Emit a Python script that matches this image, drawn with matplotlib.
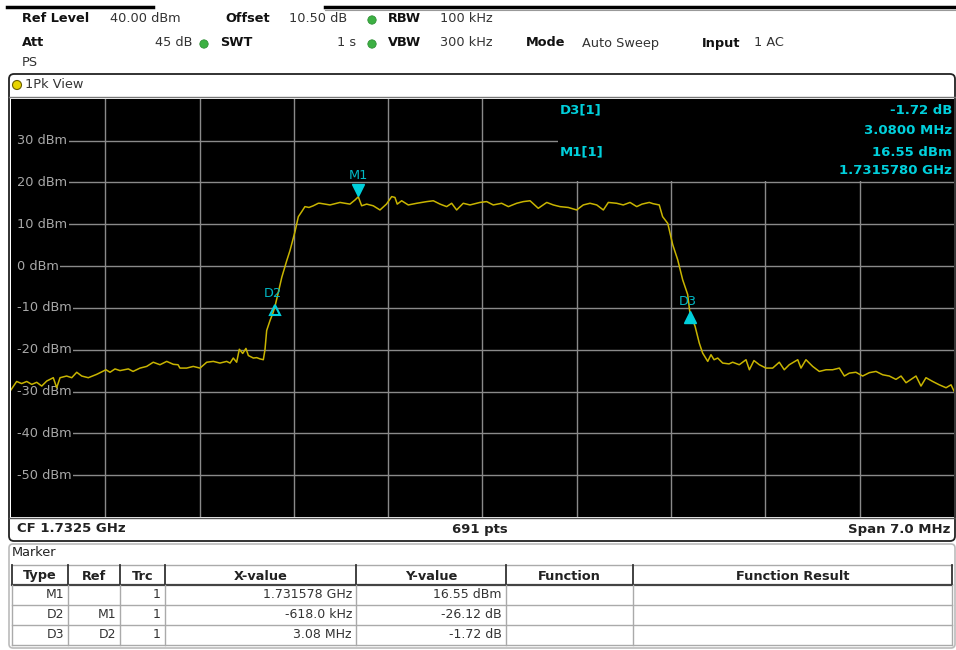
import matplotlib
matplotlib.use("Agg")
import matplotlib.pyplot as plt
import matplotlib.transforms as mtransforms
from matplotlib.patches import FancyBboxPatch, Rectangle, Circle

# trace 1: offset from start frequency (MHz) and level (dBm)
f_off = [0.000, 0.042, 0.079, 0.117, 0.154, 0.191, 0.228, 0.265, 0.314, 0.339,
         0.364, 0.413, 0.451, 0.488, 0.525, 0.574, 0.636, 0.705, 0.735, 0.772,
         0.809, 0.871, 0.906, 0.958, 1.007, 1.056, 1.106, 1.156, 1.205, 1.240,
         1.254, 1.304, 1.353, 1.403, 1.453, 1.502, 1.551, 1.601, 1.626, 1.650,
         1.675, 1.695, 1.720, 1.744, 1.762, 1.799, 1.824, 1.848, 1.873, 1.885,
         1.898, 1.923, 1.947, 1.960, 1.982, 2.010, 2.047, 2.071, 2.108, 2.133,
         2.158, 2.182, 2.212, 2.244, 2.281, 2.294, 2.368, 2.442, 2.516, 2.554,
         2.578, 2.603, 2.640, 2.689, 2.739, 2.787, 2.826, 2.850, 2.867, 2.900,
         2.949, 3.012, 3.086, 3.135, 3.185, 3.234, 3.271, 3.308, 3.357, 3.407,
         3.481, 3.531, 3.580, 3.642, 3.692, 3.754, 3.803, 3.853, 3.914, 3.977,
         4.026, 4.075, 4.137, 4.199, 4.248, 4.298, 4.348, 4.397, 4.434, 4.496,
         4.545, 4.595, 4.645, 4.684, 4.738, 4.766, 4.812, 4.837, 4.875, 4.912,
         4.949, 4.986, 5.023, 5.040, 5.078, 5.109, 5.134, 5.172, 5.196, 5.219,
         5.246, 5.283, 5.330, 5.357, 5.406, 5.456, 5.481, 5.515, 5.555, 5.604,
         5.654, 5.703, 5.740, 5.777, 5.840, 5.864, 5.901, 5.951, 6.000, 6.050,
         6.099, 6.149, 6.186, 6.223, 6.272, 6.322, 6.371, 6.421, 6.471, 6.520,
         6.569, 6.607, 6.644, 6.718, 6.755, 6.792, 6.842, 6.891, 6.941, 6.978,
         7.000]
lvl = [-29.6, -27.6, -28.1, -27.6, -28.3, -27.8, -28.7, -27.5, -26.7, -29.1,
       -26.7, -26.3, -26.7, -25.4, -26.3, -26.7, -25.9, -24.8, -25.4, -24.6,
       -25.0, -24.6, -25.2, -24.4, -24.0, -23.0, -23.6, -22.8, -23.5, -23.6,
       -24.4, -24.4, -24.0, -24.4, -23.0, -22.8, -23.2, -22.8, -23.2, -22.0,
       -23.0, -19.9, -20.9, -19.7, -21.4, -22.0, -21.9, -22.2, -22.4, -20.1,
       -15.4, -13.0, -11.0, -9.57, -6.6, -2.7, 1.3, 3.7, 8.2, 11.8,
       13.0, 14.2, 14.0, 14.4, 15.0, 15.0, 14.6, 15.2, 14.8, 15.8,
       16.55, 14.4, 14.8, 14.4, 13.4, 14.8, 16.6, 16.4, 14.8, 15.6,
       14.6, 15.0, 15.4, 15.6, 14.8, 14.2, 15.0, 13.4, 15.0, 14.6,
       15.2, 15.4, 14.6, 15.0, 14.2, 15.0, 15.4, 15.6, 13.8, 15.2,
       14.6, 14.2, 14.0, 13.4, 14.6, 15.0, 14.6, 13.4, 15.2, 15.0,
       14.6, 15.2, 14.2, 14.8, 15.2, 14.9, 14.6, 11.8, 10.2, 5.1,
       1.5, -3.3, -6.8, -11.29, -14.4, -18.4, -20.8, -22.8, -21.2, -22.4,
       -22.0, -23.2, -23.4, -23.0, -23.6, -22.4, -24.8, -22.6, -23.6, -24.4,
       -24.4, -23.0, -24.8, -23.6, -22.4, -24.4, -22.4, -24.0, -25.2, -24.8,
       -24.8, -24.4, -26.3, -25.6, -25.4, -26.3, -25.5, -25.2, -26.0, -26.3,
       -27.1, -26.3, -27.9, -26.3, -28.7, -26.7, -27.6, -28.4, -29.1, -28.4,
       -29.9]

cf_ghz = 1.7325
span_mhz = 7.0
n_pts = 691
ref_level = 40.0
bottom_level = -60.0
y_ticks = [30, 20, 10, 0, -10, -20, -30, -40, -50]

m1_freq = 1731.578   # MHz
m1_level = 16.55
d2_dx, d2_dy = -0.618, -26.12
d3_dx, d3_dy = 3.08, -1.72

mk_type = ["M1", "D2", "D3"]
mk_ref = ["", "M1", "D2"]
mk_trc = ["1", "1", "1"]
mk_x = ["1.731578 GHz", "-618.0 kHz", "3.08 MHz"]
mk_y = ["16.55 dBm", "-26.12 dB", "-1.72 dB"]
tbl_head = ["Type", "Ref", "Trc", "X-value", "Y-value", "Function", "Function Result"]

start_mhz = cf_ghz * 1000 - span_mhz / 2
freq = [start_mhz + f for f in f_off]
d2_freq = m1_freq + d2_dx
d2_level = m1_level + d2_dy
d3_freq = d2_freq + d3_dx
d3_level = d2_level + d3_dy

W, H = 956, 650
TRACE = "#c8b400"
CYAN = "#00d0dc"
CYAN_LBL = "#00b8c4"
GRID = "#8a8a8a"

plt.rcParams['font.family'] = ['DejaVu Sans']
fig = plt.figure(figsize=(W / 100, H / 100), dpi=100)

# background layer in pixel coordinates (header, frames, table)
bg = fig.add_axes([0, 0, 1, 1])
bg.set_xlim(0, W)
bg.set_ylim(H, 0)
bg.axis('off')

# top tab lines
bg.plot([7, 153], [7, 7], color="black", lw=2.5)
bg.plot([325, 955], [7, 7], color="black", lw=2.5)
bg.plot([325, 955], [10, 10], color="#999999", lw=0.8)

def hdr(x, y, s, bold=False, ha='left'):
    bg.text(x, y, s, fontsize=9.3, fontweight='bold' if bold else 'normal',
            ha=ha, va='center', color="#111111" if bold else "#333333")

def dot(x, y):
    bg.add_patch(Circle((x, y), 4.2, facecolor="#3cb043", edgecolor="#2a8a30", lw=0.5))

hdr(22, 19, "Ref Level", True)
hdr(110, 19, "40.00 dBm")
hdr(225, 19, "Offset", True)
hdr(289, 19, "10.50 dB")
dot(372, 20)
hdr(388, 19, "RBW", True)
hdr(440, 19, "100 kHz")
hdr(22, 43, "Att", True)
hdr(192, 43, "45 dB", ha='right')
dot(204, 44)
hdr(220, 43, "SWT", True)
hdr(356, 43, "1 s", ha='right')
dot(372, 44)
hdr(388, 43, "VBW", True)
hdr(440, 43, "300 kHz")
hdr(526, 43, "Mode", True)
hdr(582, 43, "Auto Sweep")
hdr(702, 43, "Input", True)
hdr(754, 43, "1 AC")
hdr(22, 63, "PS")

# window frame
bg.add_patch(FancyBboxPatch((9, 74), 946, 467, boxstyle="round,pad=0,rounding_size=5",
                            facecolor="white", edgecolor="#222222", lw=1.3))
bg.plot([9, 955], [97, 97], color="#777777", lw=1)
bg.add_patch(Circle((17, 85), 4.5, facecolor="#e8d400", edgecolor="#6b6000", lw=0.8))
bg.text(25, 85, "1Pk View", fontsize=9.3, va='center', color="#333333")

# bottom bar of the diagram
bg.plot([9, 955], [518, 518], color="#555555", lw=1)
bg.text(17, 529, "CF %.4f GHz" % cf_ghz, fontsize=9.5, fontweight='bold', va='center', color="#222222")
bg.text(480, 529, "%d pts" % n_pts, fontsize=9.5, fontweight='bold', va='center', ha='center', color="#222222")
bg.text(950, 529, "Span %.1f MHz" % span_mhz, fontsize=9.5, fontweight='bold', va='center', ha='right', color="#222222")

# marker table
bg.add_patch(FancyBboxPatch((9, 544), 946, 104, boxstyle="round,pad=0,rounding_size=4",
                            facecolor="white", edgecolor="#bbbbbb", lw=1.2))
bg.text(12, 553, "Marker", fontsize=9.3, va='center', color="#222222")
col_x = [12, 68, 120, 165, 356, 506, 633, 952]
row_y = [565, 585, 605, 625, 645]
bg.plot([12, 952], [565, 565], color="#aaaaaa", lw=1)
bg.plot([12, 952], [585, 585], color="#444444", lw=1.6)
for y in row_y[2:]:
    bg.plot([12, 952], [y, y], color="#aaaaaa", lw=1)
for i, x in enumerate(col_x):
    bg.plot([x, x], [565, 585], color="#333333", lw=1.3)
    bg.plot([x, x], [585, 645], color="#aaaaaa", lw=1)
for i, h in enumerate(tbl_head):
    bg.text((col_x[i] + col_x[i + 1]) / 2, 576, h, fontsize=9.3, fontweight='bold',
            ha='center', va='center', color="#222222")
for r in range(3):
    yc = (row_y[r + 1] + row_y[r + 2]) / 2
    vals = [mk_type[r], mk_ref[r], mk_trc[r], mk_x[r], mk_y[r]]
    for c, v in enumerate(vals):
        bg.text(col_x[c + 1] - 4, yc, v, fontsize=9, ha='right', va='center', color="#333333")

# the diagram
ax = fig.add_axes([11 / W, (H - 517) / H, 943 / W, (517 - 98.7) / H])
ax.set_facecolor("black")
ax.set_xlim(start_mhz, start_mhz + span_mhz)
ax.set_ylim(bottom_level, ref_level)
ax.set_xticks([start_mhz + span_mhz * i / 10 for i in range(1, 10)])
ax.set_yticks(y_ticks)
ax.grid(True, color=GRID, lw=1)
ax.tick_params(length=0, labelbottom=False, labelleft=False)
for s in ax.spines.values():
    s.set_visible(False)
ax.set_axisbelow(True)

for t in y_ticks:
    ax.text(0.006, t, "%d dBm" % t, transform=ax.get_yaxis_transform(), fontsize=9.3,
            color="#a8a8a8", va='center', ha='left', zorder=2.5,
            bbox=dict(facecolor="black", edgecolor="none", boxstyle="square,pad=0.15"))
# keep the grid lines clear of the left edge, as on the screen
ax.add_patch(Rectangle((0, 0), 0.006, 1, transform=ax.transAxes,
                       facecolor="black", edgecolor="none", zorder=2))

# marker info area covers the grid at the top right
ax.add_patch(Rectangle((0.58, 0.803), 0.42, 0.2, transform=ax.transAxes,
                       facecolor="black", edgecolor="none", zorder=2))

ax.plot(freq, lvl, color=TRACE, lw=1.1, zorder=3)

def off(dy):
    return mtransforms.offset_copy(ax.transData, fig=fig, x=0, y=dy, units='dots')

ax.plot(m1_freq, m1_level, marker='v', ms=8, color=CYAN, transform=off(7), zorder=4)
ax.text(m1_freq, m1_level, "M1", transform=off(21), fontsize=9.3, color=CYAN_LBL,
        ha='center', va='center', zorder=4)
ax.plot(d2_freq, d2_level, marker='^', ms=7, mfc='none', mec=CYAN, mew=1.5,
        transform=off(-4), zorder=4)
ax.text(d2_freq - 0.015, d2_level, "D2", transform=off(13), fontsize=9.3, color=CYAN_LBL,
        ha='center', va='center', zorder=4)
ax.plot(d3_freq, d3_level, marker='^', ms=8, color=CYAN, transform=off(-4), zorder=4)
ax.text(d3_freq - 0.015, d3_level, "D3", transform=off(12), fontsize=9.3, color=CYAN_LBL,
        ha='center', va='center', zorder=4)

# marker readout
ov = fig.add_axes([0, 0, 1, 1])
ov.set_xlim(0, W)
ov.set_ylim(H, 0)
ov.axis('off')
ov.patch.set_alpha(0)
info = dict(fontsize=9.5, fontweight='bold', color=CYAN, va='center')
ov.text(560, 110, "D3[1]", **info)
ov.text(952, 110, "%.2f dB" % d3_dy, ha='right', **info)
ov.text(952, 131, "%.4f MHz" % d3_dx, ha='right', **info)
ov.text(560, 152, "M1[1]", **info)
ov.text(952, 152, "%.2f dBm" % m1_level, ha='right', **info)
ov.text(952, 171, "%.7f GHz" % (m1_freq / 1000), ha='right', **info)

fig.savefig("out.png", dpi=100, facecolor="white")
